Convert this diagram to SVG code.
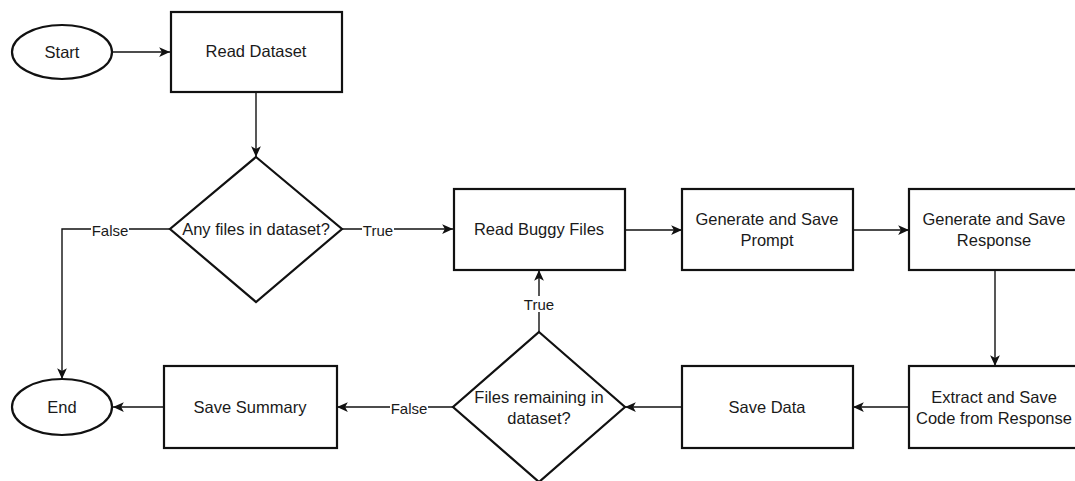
<svg xmlns="http://www.w3.org/2000/svg" width="1075" height="481" viewBox="0 0 1075 481">
<style>
.box{fill:#fff;stroke:#111;stroke-width:2.2}
.t{font-family:"Liberation Sans",Arial,sans-serif;font-size:16.5px;fill:#1a1a1a;text-anchor:middle;dominant-baseline:central}
.lbl{font-family:"Liberation Sans",Arial,sans-serif;font-size:15px;fill:#1a1a1a;text-anchor:middle;dominant-baseline:central}
.c{fill:none;stroke:#111;stroke-width:1.4}
.bg{fill:#fff}
</style>
<defs>
<marker id="arr" markerUnits="userSpaceOnUse" markerWidth="13" markerHeight="13" viewBox="0 0 12 12" refX="11" refY="6" orient="auto">
<path d="M1,1.5 L11,6 L1,10.5 L3.5,6 Z" fill="#111"/>
</marker>
</defs>
<g id="connectors">
<path class="c" d="M113,52 H170" marker-end="url(#arr)"/>
<path class="c" d="M256,92 V157" marker-end="url(#arr)"/>
<path class="c" d="M342,229 H453" marker-end="url(#arr)"/>
<path class="c" d="M170,229 H62 V379" marker-end="url(#arr)"/>
<path class="c" d="M625,230 H682" marker-end="url(#arr)"/>
<path class="c" d="M853,230 H909" marker-end="url(#arr)"/>
<path class="c" d="M995,270 V366" marker-end="url(#arr)"/>
<path class="c" d="M909,407 H853" marker-end="url(#arr)"/>
<path class="c" d="M681,407 H625" marker-end="url(#arr)"/>
<path class="c" d="M539,332 V270" marker-end="url(#arr)"/>
<path class="c" d="M453,407 H337" marker-end="url(#arr)"/>
<path class="c" d="M164,407 H113" marker-end="url(#arr)"/>
<rect class="bg" x="91" y="221" width="38" height="16"/>
<text class="lbl" x="110" y="230">False</text>
<rect class="bg" x="362" y="221" width="32" height="16"/>
<text class="lbl" x="378" y="230">True</text>
<rect class="bg" x="523" y="296" width="32" height="16"/>
<text class="lbl" x="539" y="304">True</text>
<rect class="bg" x="390" y="399" width="38" height="16"/>
<text class="lbl" x="409" y="408">False</text>
</g>
<g id="start">
<ellipse class="box" cx="62" cy="52" rx="50" ry="27"/>
<text class="t" x="62" y="52">Start</text>
</g>
<g id="read-dataset">
<rect class="box" x="171" y="12" width="171" height="80"/>
<text class="t" x="256" y="51">Read Dataset</text>
</g>
<g id="any-files">
<polygon class="box" points="256,157 342,229 256,302 170,229"/>
<text class="t" x="256" y="229">Any files in dataset?</text>
</g>
<g id="end">
<ellipse class="box" cx="62" cy="407" rx="50" ry="28"/>
<text class="t" x="62" y="407">End</text>
</g>
<g id="read-buggy">
<rect class="box" x="454" y="189" width="171" height="81"/>
<text class="t" x="539" y="229">Read Buggy Files</text>
</g>
<g id="gen-prompt">
<rect class="box" x="682" y="189" width="171" height="81"/>
<text class="t" x="767" y="219">Generate and Save</text>
<text class="t" x="767" y="240">Prompt</text>
</g>
<g id="gen-response">
<rect class="box" x="909" y="189" width="171" height="81"/>
<text class="t" x="994" y="219">Generate and Save</text>
<text class="t" x="994" y="240">Response</text>
</g>
<g id="extract">
<rect class="box" x="909" y="366" width="171" height="82"/>
<text class="t" x="994" y="397">Extract and Save</text>
<text class="t" x="994" y="418">Code from Response</text>
</g>
<g id="save-data">
<rect class="box" x="682" y="366" width="171" height="82"/>
<text class="t" x="767" y="407">Save Data</text>
</g>
<g id="files-remaining">
<polygon class="box" points="539,332 625,407 539,482 453,407"/>
<text class="t" x="539" y="397">Files remaining in</text>
<text class="t" x="539" y="418">dataset?</text>
</g>
<g id="save-summary">
<rect class="box" x="164" y="366" width="173" height="82"/>
<text class="t" x="250" y="407">Save Summary</text>
</g>
</svg>
